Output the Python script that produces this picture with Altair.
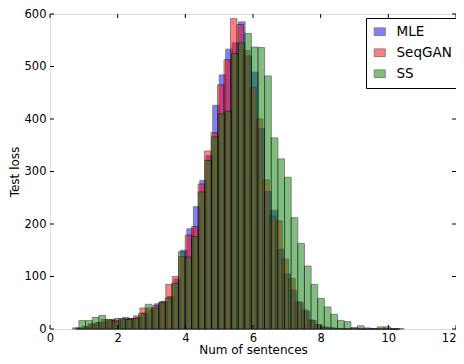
import altair as alt
import pandas as pd

series = ["MLE", "SeqGAN", "SS"]
colors = ["#0000ff", "#ff0000", "#008000"]
bin_start = [0.80, 0.75, 0.66]
bin_width = [0.191, 0.191, 0.196]

mle_counts = [1, 4, 8, 12, 15, 18, 16, 22, 20, 22, 30, 35, 48, 52, 62, 95,
              150, 191, 233, 283, 330, 426, 484, 533, 545, 585, 520, 489, 382, 262,
              226, 152, 105, 74, 50, 34, 16, 8, 3, 2,
              1, 0, 1, 0, 0, 0, 0, 0, 0, 0]
seqgan_counts = [2, 5, 10, 12, 18, 16, 20, 18, 20, 25, 40, 40, 45, 52, 85, 100, 138,
                 179, 195, 276, 339, 374, 465, 513, 591, 580, 530, 460, 400, 284,
                 215, 206, 133, 96, 52, 36, 17, 8, 4, 2,
                 1, 1, 0, 1, 0, 0, 0, 0, 0, 0]
ss_counts = [2, 16, 16, 22, 26, 18, 15, 20, 18, 20, 30, 47, 40, 50, 59, 87,
             147, 137, 176, 261, 321, 366, 410, 415, 525, 545, 563, 537, 536, 482,
             364, 324, 289, 212, 163, 120, 85, 58, 42, 28,
             16, 14, 3, 6, 2, 1, 4, 4, 0, 1]

x_ticks = [0, 2, 4, 6, 8, 10, 12]
y_ticks = [0, 100, 200, 300, 400, 500, 600]

rows = []
for name, start, w, counts in zip(series, bin_start, bin_width,
                                  [mle_counts, seqgan_counts, ss_counts]):
    for k, c in enumerate(counts):
        rows.append({"series": name, "x0": start + k * w, "x1": start + (k + 1) * w, "count": c})
df = pd.DataFrame(rows)

FONT = "DejaVu Sans"
W, H = 406, 315

xscale = alt.Scale(domain=[0, 12], nice=False, zero=False)
yscale = alt.Scale(domain=[0, 600], nice=False)

xaxis = alt.Axis(values=x_ticks, title="Num of sentences", grid=False, domain=False,
                 ticks=False, labelPadding=3, labelFontSize=11.5, titleFontSize=12,
                 titleFontWeight="normal", labelColor="black", titleColor="black",
                 labelFont=FONT, titleFont=FONT, titlePadding=1, labelFlush=False,
                 labelAlign={"condition": {"test": "datum.value >= 12", "value": "right"},
                             "value": "center"})
yaxis = alt.Axis(values=y_ticks, title="Test loss", grid=False, domain=False,
                 ticks=False, labelPadding=4, labelFontSize=11.5, titleFontSize=12,
                 titleFontWeight="normal", labelColor="black", titleColor="black",
                 labelFont=FONT, titleFont=FONT, titlePadding=3, labelFlush=False)

bars = alt.Chart(df).mark_rect(opacity=0.5, stroke="black", strokeWidth=1).encode(
    x=alt.X("x0:Q", scale=xscale, axis=xaxis),
    x2="x1:Q",
    y=alt.Y("count:Q", scale=yscale, axis=yaxis),
    y2=alt.datum(0),
    color=alt.Color("series:N", scale=alt.Scale(domain=series, range=colors),
                    legend=alt.Legend(title=None, orient="none", legendX=316, legendY=4,
                                      labelFontSize=13.5, labelFont=FONT, labelColor="black",
                                      symbolType="M-1,-0.7L1,-0.7L1,0.7L-1,0.7Z", symbolSize=120,
                                      symbolOpacity=0.5, symbolStrokeColor="black",
                                      symbolStrokeWidth=1, strokeColor="black", fillColor="white",
                                      padding=7, rowPadding=6, labelOffset=10, cornerRadius=0)),
)

xt = pd.DataFrame({"v": x_ticks})
yt = pd.DataFrame({"v": y_ticks})
tick_bottom = alt.Chart(xt).mark_rule(color="black", strokeWidth=1).encode(
    x=alt.X("v:Q", scale=xscale, axis=xaxis), y=alt.value(H), y2=alt.value(H - 4))
tick_top = alt.Chart(xt).mark_rule(color="black", strokeWidth=1).encode(
    x=alt.X("v:Q", scale=xscale, axis=xaxis), y=alt.value(0), y2=alt.value(4))
tick_left = alt.Chart(yt).mark_rule(color="black", strokeWidth=1).encode(
    y=alt.Y("v:Q", scale=yscale, axis=yaxis), x=alt.value(0), x2=alt.value(4))
tick_right = alt.Chart(yt).mark_rule(color="black", strokeWidth=1).encode(
    y=alt.Y("v:Q", scale=yscale, axis=yaxis), x=alt.value(W), x2=alt.value(W - 4))

chart = alt.layer(bars, tick_bottom, tick_top, tick_left, tick_right).properties(
    width=W, height=H,
    padding={"left": 42, "top": 6, "right": 0, "bottom": 27},
    autosize=alt.AutoSizeParams(type="none"),
).configure_view(stroke="black", strokeWidth=1).configure(background="white")

chart.save("out.html", embed_options={"renderer": "svg", "actions": False})
